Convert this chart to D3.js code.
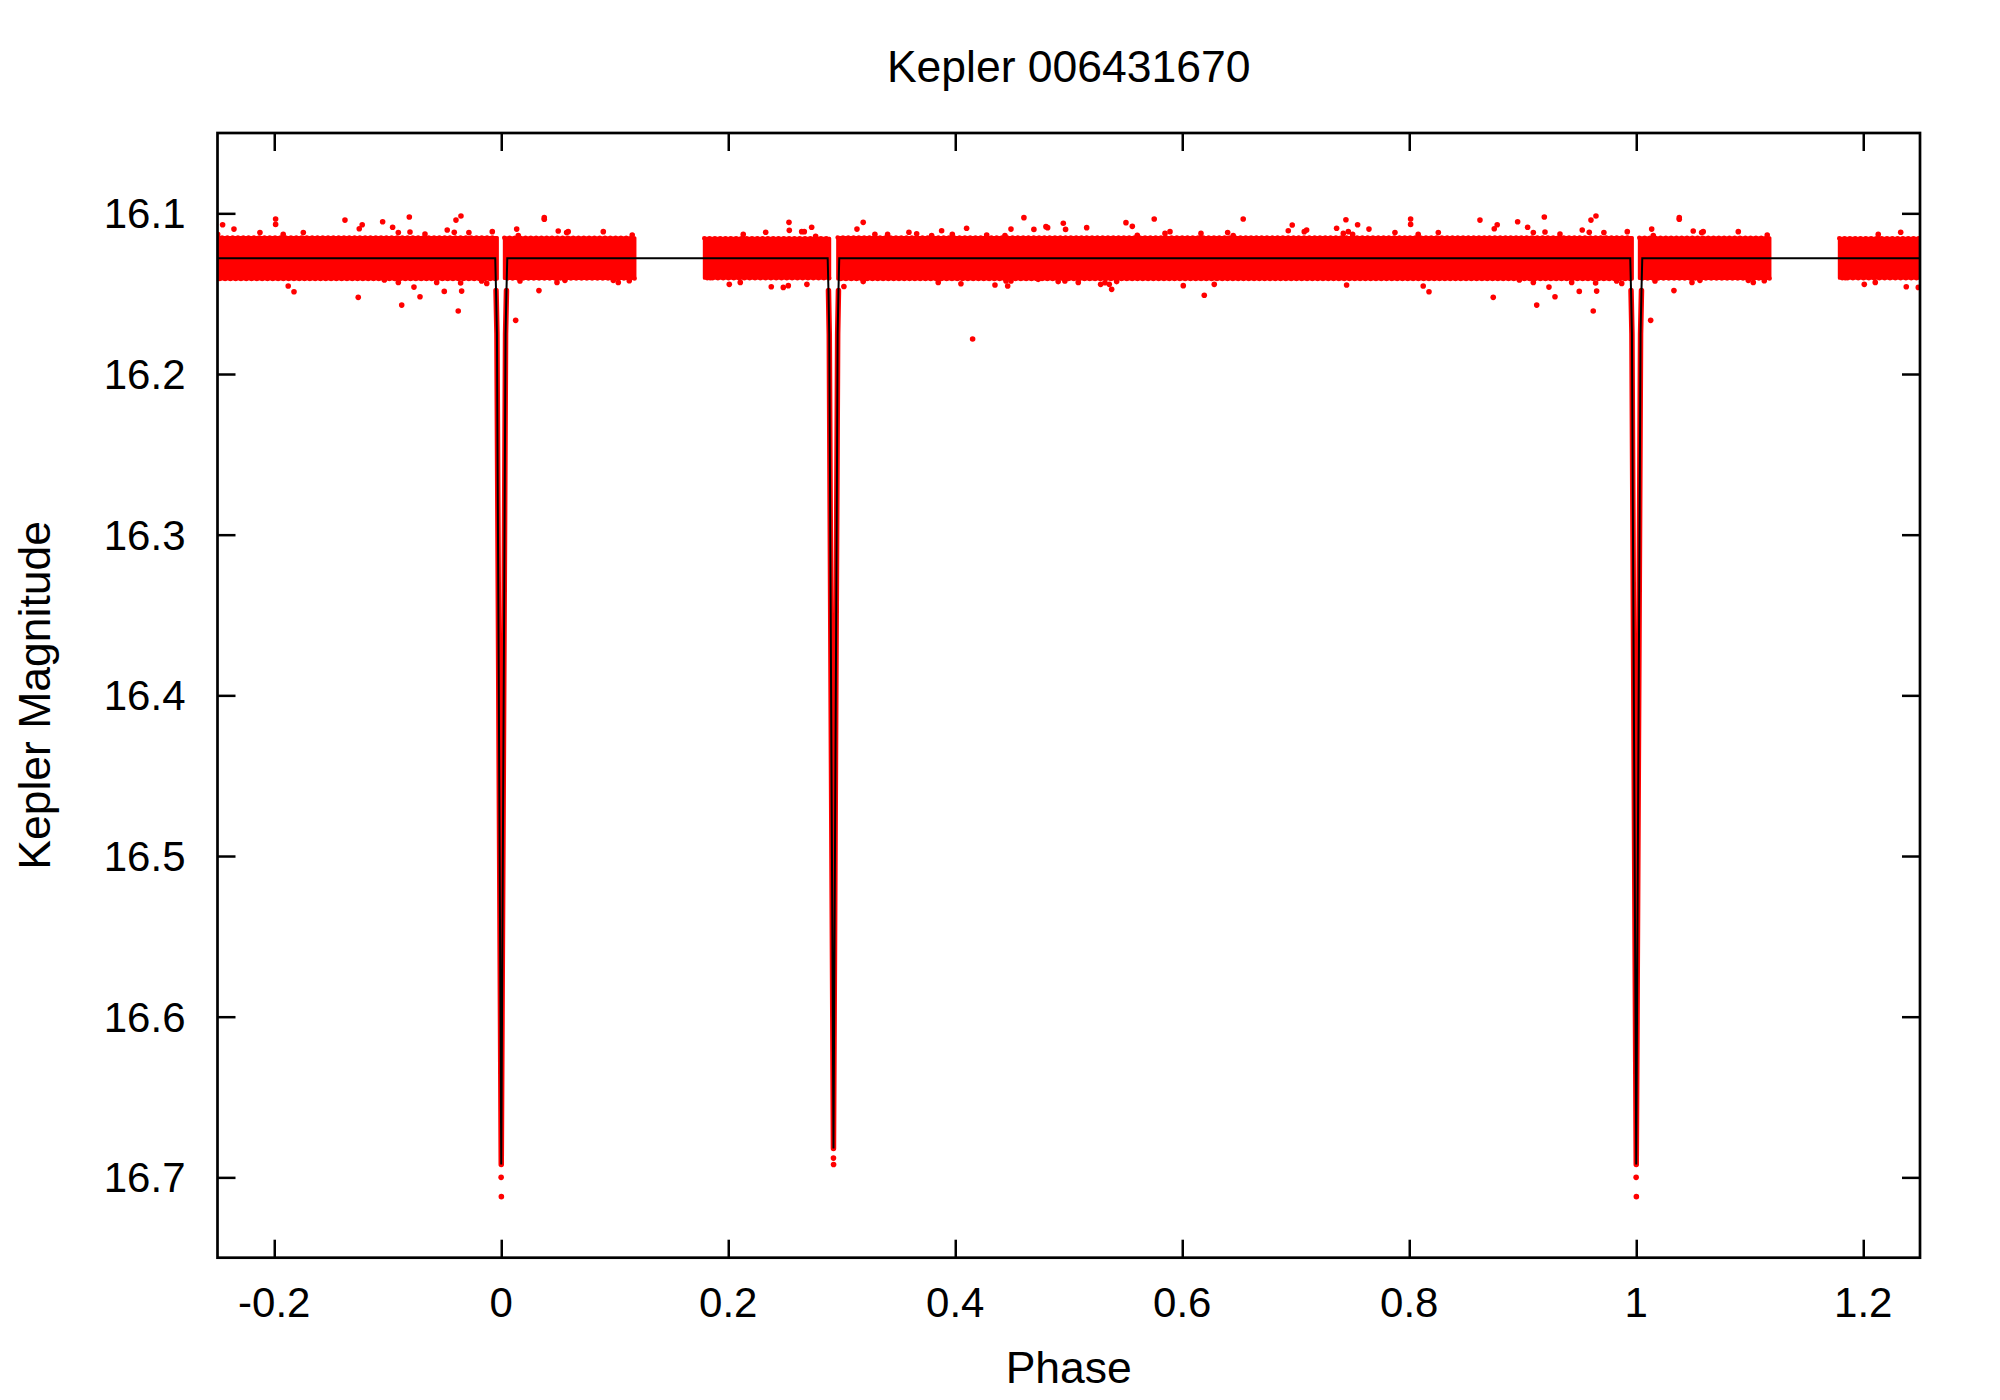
<!DOCTYPE html>
<html><head><meta charset="utf-8">
<script src="https://cdn.jsdelivr.net/npm/d3@7"></script>
<style>
body{margin:0;background:#fff}
svg{display:block}
text{font-family:"Liberation Sans",Arial,Helvetica,sans-serif;fill:#000}
</style>
</head><body>
<svg id="chart" width="2000" height="1400"></svg>
<script>
// ---------------- data ----------------
const chartTitle = "Kepler 006431670";
const xLabel = "Phase";
const yLabel = "Kepler Magnitude";
const xTicks = [-0.2, 0, 0.2, 0.4, 0.6, 0.8, 1, 1.2];
const xTickLabels = ["-0.2", "0", "0.2", "0.4", "0.6", "0.8", "1", "1.2"];
const yTicks = [16.1, 16.2, 16.3, 16.4, 16.5, 16.6, 16.7];
const yTickLabels = ["16.1", "16.2", "16.3", "16.4", "16.5", "16.6", "16.7"];
const xDomain = [-0.25, 1.25];
const yDomain = [16.05, 16.75];

// phase-folded data are repeated one period to each side
const foldShifts = [-1, 0, 1];

// out-of-eclipse level of the model
const baselineMag = 16.128;

// dense observation band (base phases), bright/faint limits of the bulk of points
const bandStart  = [0.1789, 0.2964, 1.0027];
const bandEnd    = [0.2894, 0.9966, 1.1178];
const bandBright = [16.1155, 16.1150, 16.1152];
const bandFaint  = [16.1404, 16.1408, 16.1406];

// eclipse model profiles (offset from eclipse centre, magnitude)
const primaryCenter = 1.0;
const primaryDPhase = [-0.0053, -0.0046, -0.0038, 0, 0.0038, 0.0046, 0.0053];
const primaryMag    = [16.128, 16.148, 16.175, 16.692, 16.175, 16.148, 16.128];
const secondaryCenter = 0.2927;
const secondaryDPhase = [-0.0051, -0.0044, -0.0037, 0, 0.0037, 0.0044, 0.0051];
const secondaryMag    = [16.128, 16.148, 16.175, 16.682, 16.175, 16.148, 16.128];

// deepest observed points in the eclipses
const eclipseBottomPoints = [
  [0.9999, 16.700], [1.0001, 16.712], [0.2927, 16.688], [0.2928, 16.692]
];

// isolated points outside the dense band
const outlierPoints = [
  [0.2132,16.1131],[0.2330,16.1118],[0.2535,16.1056],[0.2538,16.1106],[0.2647,16.1114],
  [0.2670,16.1114],[0.2735,16.1087],[0.2770,16.1143],[0.3134,16.1098],[0.3189,16.1056],
  [0.3292,16.1131],[0.3404,16.1131],[0.3592,16.1118],[0.3660,16.1127],[0.3792,16.1139],
  [0.3880,16.1108],[0.3974,16.1131],[0.4100,16.1093],[0.4277,16.1135],[0.4438,16.1139],
  [0.4491,16.1098],[0.4605,16.1027],[0.4693,16.1100],[0.4799,16.1083],[0.4814,16.1089],
  [0.4952,16.1062],[0.4972,16.1100],
  [0.1842,16.1400],[0.2009,16.1442],[0.2106,16.1430],[0.2379,16.1457],[0.2485,16.1461],
  [0.2529,16.1450],[0.2693,16.1442],[0.3019,16.1455],[0.3189,16.1425],[0.3850,16.1430],
  [0.4050,16.1438],[0.4153,16.1782],[0.4350,16.1446],[0.4447,16.1421],[0.4462,16.1452],
  [0.4491,16.1421],[0.4731,16.1411],[0.4907,16.1425],[0.4966,16.1421],
  [0.5158,16.1089],[0.5504,16.1058],[0.5560,16.1081],[0.5604,16.1137],[0.5753,16.1035],
  [0.5848,16.1125],[0.5892,16.1114],[0.6165,16.1125],[0.6400,16.1120],[0.6449,16.1139],
  [0.6537,16.1035],[0.6934,16.1108],[0.6969,16.1073],[0.7075,16.1114],[0.7096,16.1104],
  [0.7360,16.1093],[0.7419,16.1125],[0.7442,16.1040],[0.7463,16.1114],[0.7501,16.1131],
  [0.7545,16.1071],[0.7645,16.1098],[0.7874,16.1120],[0.8012,16.1035],[0.8012,16.1069],
  [0.8079,16.1131],[0.8256,16.1120],[0.8623,16.1042],[0.8749,16.1096],[0.8775,16.1071],
  [0.5084,16.1430],[0.5281,16.1442],[0.5319,16.1432],[0.5357,16.1442],[0.5378,16.1473],
  [0.5422,16.1425],[0.6009,16.1450],[0.6194,16.1510],[0.6282,16.1442],[0.7448,16.1446],
  [0.8123,16.1452],[0.8174,16.1488],[0.8740,16.1523],
  [0.8955,16.1052],[0.9043,16.1087],[0.9093,16.1120],[0.9190,16.1023],[0.9196,16.1116],
  [0.9328,16.1129],[0.9524,16.1104],[0.9586,16.1118],[0.9601,16.1042],[0.9645,16.1017],
  [0.9715,16.1120],[0.9921,16.1114],[1.0136,16.1098],[1.0150,16.1139],[1.0379,16.1027],
  [1.0379,16.1037],[1.0502,16.1110],[1.0576,16.1120],[1.0590,16.1114],[1.0899,16.1114],
  [1.1154,16.1135],
  [0.8970,16.1415],[0.9093,16.1430],[0.9123,16.1571],[0.9231,16.1459],[0.9284,16.1519],
  [0.9431,16.1430],[0.9498,16.1486],[0.9621,16.1608],[0.9642,16.1434],[0.9651,16.1484],
  [0.9827,16.1421],[0.9872,16.1436],[1.0127,16.1666],[1.0165,16.1421],[1.0332,16.1481],
  [1.0491,16.1430],[1.0561,16.1417],[1.0987,16.1417],[1.1031,16.1430],[1.1128,16.1419]
];

// ---------------- layout ----------------
const plot = {left: 217.5, right: 1920, top: 133, bottom: 1257.7};
const tickFont = 42, labelFont = 44.5;
const red = "#ff0000";

const svg = d3.select("#chart");
const x = d3.scaleLinear().domain(xDomain).range([plot.left, plot.right]);
const y = d3.scaleLinear().domain(yDomain).range([plot.top, plot.bottom]);

svg.append("defs").append("clipPath").attr("id", "clip")
  .append("rect").attr("x", plot.left).attr("y", plot.top)
  .attr("width", plot.right - plot.left).attr("height", plot.bottom - plot.top);

const g = svg.append("g").attr("clip-path", "url(#clip)");
const inView = p => p >= xDomain[0] - 0.02 && p <= xDomain[1] + 0.02;
const line = d3.line().x(d => x(d[0])).y(d => y(d[1]));

// dense band of observations
const band = d3.area().x(d => x(d.p)).y0(d => y(d.faint)).y1(d => y(d.bright));
foldShifts.forEach(s => {
  bandStart.forEach((b, i) => {
    const p0 = b + s, p1 = bandEnd[i] + s;
    if (p1 < xDomain[0] - 0.02 || p0 > xDomain[1] + 0.02) return;
    const pts = [p0, p1].map(p => ({p, bright: bandBright[i], faint: bandFaint[i]}));
    g.append("path").attr("d", band(pts))
      .attr("fill", red).attr("stroke", red)
      .attr("stroke-width", 3).attr("stroke-linejoin", "round");
    // ragged edges made of point-sized dots along the band borders
    [[bandBright[i], 0], [bandFaint[i], 2.3]].forEach(([m, off]) => {
      g.append("path").attr("d", line([[p0, m], [p1, m]]))
        .attr("fill", "none").attr("stroke", red).attr("stroke-width", 4.6)
        .attr("stroke-linecap", "round").attr("stroke-dasharray", "0 5.3")
        .attr("stroke-dashoffset", off);
    });
  });
});

// eclipse profiles
const eclipses = [
  {c: primaryCenter, dp: primaryDPhase, m: primaryMag},
  {c: secondaryCenter, dp: secondaryDPhase, m: secondaryMag}
];

// red observed points tracing the eclipses
foldShifts.forEach(s => {
  eclipses.forEach(e => {
    if (!inView(e.c + s)) return;
    const pts = e.dp.map((d, i) => [e.c + s + d, e.m[i]]).slice(1, -1);
    g.append("path").attr("d", line(pts)).attr("fill", "none")
      .attr("stroke", red).attr("stroke-width", 5.5)
      .attr("stroke-linejoin", "round").attr("stroke-linecap", "round");
  });
});

// individual points
const allPoints = [];
foldShifts.forEach(s => {
  outlierPoints.concat(eclipseBottomPoints).forEach(([p, m]) => {
    if (inView(p + s)) allPoints.push([p + s, m]);
  });
});
g.selectAll("circle.pt").data(allPoints).enter().append("circle")
  .attr("class", "pt").attr("cx", d => x(d[0])).attr("cy", d => y(d[1]))
  .attr("r", 2.8).attr("fill", red);

// model line
let model = [];
foldShifts.forEach(s => {
  eclipses.forEach(e => {
    e.dp.forEach((d, i) => {
      const p = e.c + s + d;
      if (inView(p)) model.push([p, e.m[i]]);
    });
  });
});
model.push([xDomain[0], baselineMag], [xDomain[1], baselineMag]);
model.sort((a, b) => a[0] - b[0]);
g.append("path").attr("d", line(model)).attr("fill", "none")
  .attr("stroke", "#000").attr("stroke-width", 2).attr("stroke-linejoin", "miter");

// ---------------- axes ----------------
const tickLen = 18;
const axes = svg.append("g");
axes.append("g").attr("transform", `translate(0,${plot.bottom})`)
  .call(d3.axisTop(x).tickValues(xTicks).tickSize(tickLen).tickFormat(""));
axes.append("g").attr("transform", `translate(0,${plot.top})`)
  .call(d3.axisBottom(x).tickValues(xTicks).tickSize(tickLen).tickFormat(""));
axes.append("g").attr("transform", `translate(${plot.left},0)`)
  .call(d3.axisRight(y).tickValues(yTicks).tickSize(tickLen).tickFormat(""));
axes.append("g").attr("transform", `translate(${plot.right},0)`)
  .call(d3.axisLeft(y).tickValues(yTicks).tickSize(tickLen).tickFormat(""));
axes.selectAll(".domain").remove();
axes.selectAll(".tick line").attr("stroke", "#000").attr("stroke-width", 2.5);

svg.append("rect").attr("x", plot.left).attr("y", plot.top)
  .attr("width", plot.right - plot.left).attr("height", plot.bottom - plot.top)
  .attr("fill", "none").attr("stroke", "#000").attr("stroke-width", 2.7);

// tick labels
svg.append("g").selectAll("text").data(xTicks).enter().append("text")
  .attr("x", d => x(d)).attr("y", plot.bottom + 59.5)
  .attr("text-anchor", "middle").attr("font-size", tickFont)
  .text((d, i) => xTickLabels[i]);
svg.append("g").selectAll("text").data(yTicks).enter().append("text")
  .attr("x", plot.left - 32).attr("y", d => y(d) + 15)
  .attr("text-anchor", "end").attr("font-size", tickFont)
  .text((d, i) => yTickLabels[i]);

// titles
svg.append("text").attr("x", (plot.left + plot.right) / 2).attr("y", 82)
  .attr("text-anchor", "middle").attr("font-size", labelFont).text(chartTitle);
svg.append("text").attr("x", (plot.left + plot.right) / 2).attr("y", 1383)
  .attr("text-anchor", "middle").attr("font-size", labelFont).text(xLabel);
svg.append("text").attr("transform", `translate(50,${(plot.top + plot.bottom) / 2}) rotate(-90)`)
  .attr("text-anchor", "middle").attr("font-size", labelFont).text(yLabel);
</script>
</body></html>
